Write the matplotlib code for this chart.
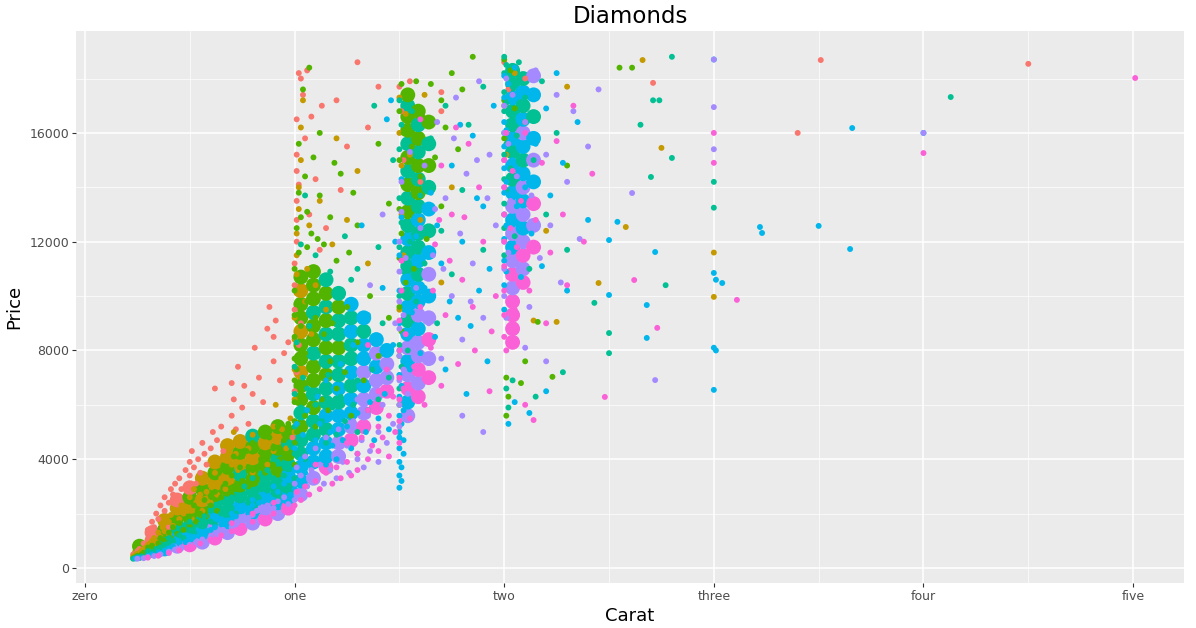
import numpy as np
import matplotlib
matplotlib.use("Agg")
import matplotlib.pyplot as plt
from matplotlib.ticker import MultipleLocator

# diamond colour grades and the ggplot hue palette
grades = ["D", "E", "F", "G", "H", "I", "J"]
grade_colors = ["#F8766D", "#C49A00", "#53B400", "#00C094", "#00B6EB", "#A58AFF", "#FB61D7"]

x_ticks = [0, 1, 2, 3, 4, 5]
x_labels = ["zero", "one", "two", "three", "four", "five"]
y_ticks = [0, 4000, 8000, 12000, 16000]

# (carat, price), one list per colour grade
pts_D = [(0.23, 500), (0.25, 620), (0.26, 700), (0.27, 560), (0.28, 900), (0.3, 1050), (0.3, 1400),
         (0.31, 1250), (0.32, 1700), (0.33, 1500), (0.34, 2000), (0.35, 1800), (0.36, 2300), (0.38, 2100),
         (0.38, 2600), (0.4, 2400), (0.41, 2900), (0.42, 2700), (0.43, 3100), (0.45, 3300), (0.46, 2900),
         (0.48, 3600), (0.5, 3400), (0.5, 3900), (0.51, 4300), (0.52, 3700), (0.53, 3100), (0.54, 4000),
         (0.55, 3500), (0.56, 4600), (0.57, 4200), (0.58, 3800), (0.6, 4400), (0.62, 6600), (0.61, 5000),
         (0.63, 4700), (0.65, 5200), (0.66, 4300), (0.7, 5600), (0.7, 6800), (0.71, 6200), (0.72, 5100),
         (0.73, 7400), (0.75, 5900), (0.76, 6700), (0.78, 5300), (0.8, 6400), (0.81, 8100), (0.83, 7000),
         (0.85, 6100), (0.87, 8800), (0.88, 9600), (0.9, 7600), (0.9, 8500), (0.91, 9100), (0.93, 6900),
         (0.95, 7900), (0.97, 8300), (0.3, 800), (0.35, 1200), (0.4, 1500),
         (1.0, 9500), (1.0, 10400), (1.0, 11200), (1.01, 12000), (1.01, 12800), (1.01, 13500), (1.01, 14600),
         (1.01, 15200), (1.01, 16500), (1.02, 14100), (1.02, 18200), (1.03, 18000), (1.04, 17400),
         (1.05, 15800), (1.06, 18300), (1.07, 13000), (1.08, 16600), (1.1, 14300), (1.12, 11700),
         (1.13, 17000), (1.15, 12500), (1.2, 17200), (1.22, 13900), (1.25, 15500), (1.3, 18600),
         (1.35, 16200), (1.4, 17700), (1.0, 6500), (1.01, 7200), (1.02, 8200), (1.03, 9000), (0.99, 4800),
         (1.5, 17700), (1.51, 16800), (1.52, 15000), (1.55, 17900), (1.6, 14200), (1.7, 16800), (1.7, 17500),
         (2.0, 18600), (2.02, 17600), (2.1, 18000), (2.71, 17840), (3.4, 16000), (3.51, 18680), (4.5, 18540)]

pts_E = [(0.23, 420), (0.24, 480), (0.25, 520), (0.26, 560), (0.27, 640), (0.28, 700), (0.29, 760),
         (0.3, 680), (0.3, 850), (0.31, 900), (0.32, 1000), (0.33, 1100), (0.34, 950), (0.35, 1300),
         (0.36, 1150), (0.37, 1500), (0.38, 1350), (0.4, 1700), (0.4, 1250), (0.41, 1950), (0.42, 1550),
         (0.43, 2100), (0.45, 1800), (0.46, 2300), (0.47, 2000), (0.5, 2600), (0.5, 2200), (0.51, 1800),
         (0.52, 2900), (0.53, 2400), (0.55, 2700), (0.56, 2100), (0.57, 3200), (0.58, 2800), (0.6, 3100),
         (0.6, 2400), (0.62, 3500), (0.63, 2700), (0.65, 3300), (0.67, 2900), (0.7, 3800), (0.7, 4500),
         (0.7, 3200), (0.71, 5000), (0.72, 4200), (0.73, 3600), (0.75, 4700), (0.76, 3900), (0.78, 4400),
         (0.8, 3500), (0.8, 4900), (0.82, 4100), (0.85, 4600), (0.87, 3800), (0.9, 4300), (0.9, 5200),
         (0.91, 6000), (0.92, 4700), (0.94, 5100), (0.96, 4400), (0.98, 5500),
         (1.0, 5000), (1.0, 6200), (1.0, 7300), (1.0, 8400), (1.0, 9200), (1.01, 10100), (1.01, 10800),
         (1.01, 11500), (1.01, 12300), (1.02, 13200), (1.02, 14000), (1.03, 15000), (1.03, 16200),
         (1.04, 17200), (1.05, 9800), (1.06, 11000), (1.07, 12600), (1.08, 8600), (1.1, 10400),
         (1.12, 13500), (1.15, 9500), (1.18, 11900), (1.2, 15800), (1.25, 12800), (1.3, 14600), (1.35, 11200),
         (1.5, 17300), (1.5, 16000), (1.51, 14800), (1.51, 13000), (1.52, 11500), (1.5, 9500), (1.53, 16700),
         (1.55, 15200), (1.6, 12800), (1.62, 17400), (1.7, 10500), (1.75, 14000),
         (2.0, 17000), (2.01, 15200), (2.05, 18200), (2.1, 16400), (2.14, 9100), (2.25, 9050), (2.2, 12400),
         (2.3, 17700), (2.45, 10480), (2.58, 12540), (2.66, 18680), (2.75, 15450), (3.0, 11600), (3.0, 9970)]

pts_F = [(0.23, 360), (0.24, 400), (0.25, 450), (0.26, 380), (0.27, 500), (0.28, 560), (0.3, 600),
         (0.3, 750), (0.31, 520), (0.32, 820), (0.33, 680), (0.35, 900), (0.36, 1100), (0.37, 780),
         (0.38, 1000), (0.4, 1300), (0.4, 950), (0.41, 1100), (0.42, 1500), (0.44, 1250), (0.45, 1650),
         (0.47, 1400), (0.5, 1900), (0.5, 1550), (0.52, 2300), (0.53, 1700), (0.55, 2000), (0.57, 2500),
         (0.58, 1900), (0.6, 2300), (0.62, 2800), (0.63, 2100), (0.65, 2600), (0.67, 3100), (0.7, 2700),
         (0.7, 3400), (0.71, 4100), (0.72, 2900), (0.74, 3700), (0.75, 3200), (0.77, 4300), (0.78, 3000),
         (0.8, 3600), (0.8, 4600), (0.82, 3300), (0.84, 4000), (0.86, 3500), (0.88, 4800), (0.9, 3800),
         (0.9, 4400), (0.92, 5200), (0.93, 4000), (0.95, 4700), (0.97, 5300), (0.99, 4200),
         (1.0, 3800), (1.0, 4600), (1.0, 5400), (1.0, 6100), (1.0, 6900), (1.0, 7700), (1.0, 8500),
         (1.0, 9300), (1.0, 10200), (1.0, 11000), (1.01, 5000), (1.01, 7300), (1.01, 9700), (1.01, 12500),
         (1.02, 13800), (1.02, 15600), (1.03, 6400), (1.03, 8900), (1.04, 10600), (1.04, 17600),
         (1.05, 5600), (1.05, 7900), (1.06, 9800), (1.06, 11800), (1.07, 18400), (1.08, 6800), (1.08, 8400),
         (1.09, 10900), (1.1, 5200), (1.1, 7400), (1.1, 9200), (1.11, 12100), (1.12, 16000), (1.13, 6200),
         (1.14, 8600), (1.15, 10200), (1.16, 5800), (1.17, 7600), (1.18, 9000), (1.2, 6600), (1.2, 11300),
         (1.21, 8100), (1.22, 14500), (1.24, 7200), (1.25, 9600), (1.27, 5600), (1.3, 8300), (1.3, 12600),
         (1.33, 6900), (1.36, 10000), (1.4, 7800), (1.45, 13400), (1.4, 15600), (1.45, 9200),
         (1.02, 11600), (1.03, 12900), (1.05, 14400), (1.06, 13100), (1.08, 12300), (1.09, 15100),
         (1.12, 13700), (1.14, 11900), (1.17, 12900), (1.19, 14900), (1.26, 11600), (1.28, 13800),
         (1.5, 6000), (1.5, 7800), (1.5, 9600), (1.5, 11400), (1.5, 13200), (1.5, 15000), (1.5, 16800),
         (1.51, 17800), (1.51, 8700), (1.51, 12300), (1.52, 14100), (1.52, 16000), (1.53, 10500),
         (1.54, 17300), (1.55, 13000), (1.56, 15500), (1.57, 11000), (1.58, 17900), (1.6, 14400),
         (1.61, 16600), (1.63, 12100), (1.65, 17800), (1.67, 15100), (1.7, 17200), (1.7, 13300),
         (1.72, 16200), (1.75, 18200), (1.8, 17600), (1.85, 18800), (1.78, 15400),
         (2.0, 18700), (2.0, 17200), (2.0, 15800), (2.01, 7000), (2.01, 5600), (2.02, 6300), (2.03, 18300),
         (2.05, 16900), (2.08, 6800), (2.1, 7600), (2.16, 9050), (2.23, 7030), (2.3, 14800),
         (2.55, 18400), (2.61, 18400)]

pts_G = [(0.23, 340), (0.25, 400), (0.27, 430), (0.3, 500), (0.3, 620), (0.32, 580), (0.34, 700),
         (0.36, 760), (0.38, 860), (0.4, 920), (0.4, 1100), (0.42, 1000), (0.45, 1200), (0.47, 1100),
         (0.5, 1400), (0.5, 1700), (0.52, 1300), (0.55, 1600), (0.57, 1900), (0.6, 1700), (0.6, 2100),
         (0.62, 1600), (0.65, 2000), (0.67, 2400), (0.7, 2200), (0.7, 2600), (0.72, 2000), (0.74, 2500),
         (0.76, 3000), (0.78, 2400), (0.8, 2800), (0.8, 3300), (0.83, 2600), (0.85, 3100), (0.87, 3600),
         (0.9, 2900), (0.9, 3300), (0.92, 3900), (0.95, 3400), (0.97, 3000), (0.98, 4500),
         (1.0, 3300), (1.0, 4200), (1.0, 5200), (1.0, 6400), (1.0, 7400), (1.01, 8300), (1.02, 4800),
         (1.03, 5900), (1.04, 7000), (1.05, 4000), (1.06, 6600), (1.07, 8900), (1.08, 5000), (1.1, 4400),
         (1.1, 6000), (1.11, 7800), (1.12, 9500), (1.13, 5400), (1.15, 4600), (1.16, 7100), (1.18, 5900),
         (1.2, 4900), (1.2, 8500), (1.22, 6300), (1.24, 5400), (1.25, 7600), (1.27, 10600), (1.28, 6000),
         (1.3, 5000), (1.3, 6900), (1.32, 8700), (1.35, 5800), (1.37, 7300), (1.4, 6200), (1.4, 11800),
         (1.42, 9000), (1.45, 7000), (1.47, 15000), (1.38, 17000),
         (1.03, 11900), (1.05, 13700), (1.1, 11500), (1.17, 10900), (1.24, 12200), (1.3, 11000),
         (1.5, 5000), (1.5, 6600), (1.5, 8200), (1.5, 10000), (1.5, 11800), (1.5, 13600), (1.5, 15400),
         (1.5, 17200), (1.51, 7400), (1.51, 9100), (1.51, 12700), (1.51, 16300), (1.52, 10900),
         (1.53, 14500), (1.54, 8000), (1.55, 12000), (1.56, 16800), (1.58, 9800), (1.6, 13700),
         (1.62, 11200), (1.65, 15800), (1.68, 9000), (1.7, 12400), (1.72, 17000), (1.75, 10800),
         (1.8, 13900), (1.83, 16300), (1.9, 11700), (1.9, 17700),
         (2.0, 18800), (2.0, 18200), (2.0, 17500), (2.0, 16800), (2.0, 16000), (2.0, 15200), (2.0, 14300),
         (2.0, 13400), (2.0, 12500), (2.0, 11500), (2.01, 18500), (2.01, 17100), (2.01, 15600),
         (2.01, 13900), (2.01, 6600), (2.02, 18000), (2.02, 16400), (2.02, 5900), (2.03, 14700),
         (2.04, 17700), (2.04, 6900), (2.05, 12200), (2.06, 15900), (2.07, 18600), (2.08, 13500),
         (2.1, 17300), (2.12, 11000), (2.14, 15000), (2.15, 6300), (2.18, 17900), (2.2, 13000),
         (2.25, 16000), (2.28, 7200), (2.3, 11700),
         (2.43, 9750), (2.5, 8640), (2.5, 7900), (2.65, 16300), (2.7, 14380), (2.74, 17200), (2.71, 17200),
         (2.77, 10400), (2.8, 18800), (2.8, 15080), (3.0, 14200), (3.0, 13250), (4.13, 17320)]

pts_H = [(0.24, 350), (0.26, 370), (0.3, 450), (0.32, 500), (0.35, 580), (0.38, 650), (0.4, 720),
         (0.42, 800), (0.45, 900), (0.48, 950), (0.5, 1050), (0.52, 1150), (0.55, 1200), (0.58, 1350),
         (0.6, 1400), (0.62, 1500), (0.65, 1600), (0.68, 1750), (0.7, 1800), (0.7, 2000), (0.72, 1900),
         (0.75, 2100), (0.78, 2200), (0.8, 2300), (0.8, 2500), (0.83, 2400), (0.85, 2700), (0.88, 2600),
         (0.9, 2500), (0.9, 3000), (0.92, 2800), (0.95, 3100), (0.98, 2700),
         (1.0, 2900), (1.0, 3600), (1.0, 4400), (1.01, 5300), (1.02, 3200), (1.03, 4000), (1.04, 4900),
         (1.05, 3500), (1.06, 5800), (1.07, 4300), (1.08, 3700), (1.1, 4700), (1.1, 3900), (1.11, 6300),
         (1.12, 5300), (1.14, 4200), (1.15, 3800), (1.15, 6900), (1.17, 5000), (1.18, 4500), (1.2, 4000),
         (1.2, 5700), (1.22, 7500), (1.23, 4700), (1.25, 5200), (1.25, 6300), (1.27, 4400), (1.28, 8200),
         (1.3, 5700), (1.3, 4200), (1.32, 6700), (1.34, 5000), (1.35, 9300), (1.36, 6100), (1.38, 4700),
         (1.4, 5500), (1.4, 7300), (1.42, 10300), (1.43, 6400), (1.45, 5100), (1.47, 8200), (1.32, 12600),
         (1.46, 17200), (1.44, 16500), (1.48, 12000),
         (1.5, 2950), (1.5, 3400), (1.5, 3900), (1.5, 4400), (1.5, 5000), (1.5, 5600), (1.5, 6300),
         (1.5, 7100), (1.5, 8000), (1.5, 9000), (1.5, 10200), (1.5, 11500), (1.51, 12900), (1.51, 14300),
         (1.51, 6700), (1.52, 8600), (1.52, 4700), (1.53, 10700), (1.55, 7300), (1.56, 9400), (1.58, 12200),
         (1.6, 7900), (1.62, 10300), (1.65, 13800), (1.67, 8500), (1.7, 11200), (1.72, 7300), (1.75, 14800),
         (1.78, 9200), (1.8, 12000), (1.82, 6400), (1.85, 15900), (1.88, 10200), (1.9, 13300), (1.92, 7600),
         (1.95, 17000), (1.51, 3200), (1.51, 3700), (1.52, 4200), (1.51, 5300), (1.5, 4800), (1.52, 5800),
         (1.68, 12600), (1.74, 9800), (1.79, 16300), (1.84, 8900), (1.87, 13600), (1.93, 11000),
         (2.0, 9500), (2.0, 10400), (2.0, 11300), (2.0, 12100), (2.0, 13000), (2.0, 13800), (2.0, 14700),
         (2.0, 15500), (2.0, 16400), (2.0, 17300), (2.0, 18100), (2.01, 10900), (2.01, 12600), (2.01, 14200),
         (2.01, 16100), (2.02, 17800), (2.02, 5300), (2.03, 11800), (2.04, 15000), (2.05, 18400),
         (2.06, 13300), (2.07, 16600), (2.08, 10700), (2.1, 14000), (2.11, 17500), (2.13, 12300),
         (2.15, 15600), (2.18, 11100), (2.2, 16900), (2.22, 13700), (2.25, 18200), (2.28, 14900),
         (2.3, 10200), (2.35, 16400), (2.4, 12800), (2.05, 6100), (2.12, 5700), (2.2, 6500),
         (2.5, 10040), (2.54, 12730), (2.5, 12060), (2.72, 11620), (2.68, 9670), (2.68, 8460), (3.0, 18700),
         (3.0, 10850), (3.01, 10600), (3.0, 8100), (3.01, 8000), (3.0, 6550), (3.04, 10480), (3.22, 12540),
         (3.23, 12320), (3.5, 12580), (3.65, 11730), (3.66, 16180), (4.0, 16000)]

pts_I = [(0.25, 340), (0.28, 360), (0.3, 400), (0.33, 440), (0.36, 500), (0.4, 600), (0.43, 680),
         (0.46, 760), (0.5, 850), (0.53, 950), (0.56, 1050), (0.6, 1150), (0.63, 1250), (0.66, 1400),
         (0.7, 1500), (0.72, 1600), (0.75, 1750), (0.78, 1850), (0.8, 1950), (0.82, 2100), (0.85, 2050),
         (0.87, 2300), (0.9, 2200), (0.92, 2450), (0.95, 2600), (0.97, 2350),
         (1.0, 2500), (1.0, 3100), (1.01, 3700), (1.02, 2700), (1.03, 3400), (1.05, 4100), (1.06, 3000),
         (1.08, 3600), (1.1, 3300), (1.1, 4400), (1.12, 3800), (1.14, 3100), (1.15, 4800), (1.17, 3600),
         (1.19, 4200), (1.2, 3300), (1.21, 5100), (1.23, 3900), (1.25, 4500), (1.26, 3500), (1.28, 5400),
         (1.3, 4000), (1.3, 6200), (1.32, 4700), (1.33, 3700), (1.35, 5600), (1.36, 4300), (1.38, 6800),
         (1.4, 5000), (1.4, 3900), (1.42, 6000), (1.44, 4600), (1.45, 7400), (1.47, 5300), (1.48, 9000),
         (1.36, 10400), (1.42, 13000),
         (1.5, 5200), (1.5, 6000), (1.5, 6900), (1.5, 7800), (1.5, 8800), (1.5, 9800), (1.5, 10900),
         (1.5, 12000), (1.51, 13100), (1.51, 14200), (1.52, 7300), (1.52, 9300), (1.53, 11400), (1.54, 6400),
         (1.55, 15300), (1.56, 8300), (1.58, 10300), (1.6, 12500), (1.6, 6800), (1.62, 14800), (1.64, 9000),
         (1.66, 11500), (1.68, 16400), (1.7, 7700), (1.72, 13600), (1.75, 10000), (1.77, 17300), (1.8, 8400),
         (1.82, 14500), (1.85, 11200), (1.88, 17900), (1.9, 9200), (1.93, 15200), (1.96, 12600), (1.8, 5600),
         (1.9, 5000), (1.67, 13200), (1.71, 11000), (1.76, 15800), (1.79, 12300), (1.84, 9800), (1.87, 15000),
         (1.92, 13600),
         (2.0, 10000), (2.0, 11000), (2.0, 12000), (2.0, 13000), (2.0, 14000), (2.0, 15000), (2.0, 16000),
         (2.0, 17000), (2.01, 9200), (2.01, 18000), (2.02, 11600), (2.02, 15600), (2.03, 13500),
         (2.04, 17400), (2.05, 10300), (2.06, 14400), (2.08, 12000), (2.1, 16400), (2.12, 9600),
         (2.13, 13700), (2.15, 18300), (2.17, 11400), (2.2, 15200), (2.22, 12600), (2.25, 17400),
         (2.27, 10500), (2.3, 14200), (2.33, 16800), (2.36, 12100), (2.4, 15500), (2.45, 17600), (2.1, 8100),
         (2.2, 7600),
         (2.61, 13790), (2.72, 6910), (3.0, 18700), (3.0, 16950), (3.0, 15400), (4.0, 16000)]

pts_J = [(0.3, 380), (0.35, 450), (0.4, 550), (0.45, 650), (0.5, 780), (0.55, 900), (0.6, 1050),
         (0.65, 1200), (0.7, 1350), (0.75, 1550), (0.8, 1700), (0.85, 1850), (0.9, 2000), (0.95, 2150),
         (0.7, 1650), (0.8, 2000), (0.9, 2400),
         (1.0, 2300), (1.01, 2800), (1.03, 2500), (1.05, 3000), (1.07, 2700), (1.1, 3200), (1.12, 2900),
         (1.15, 3500), (1.18, 3100), (1.2, 3700), (1.22, 3300), (1.25, 3900), (1.27, 3400), (1.3, 4200),
         (1.3, 3600), (1.32, 4800), (1.35, 4000), (1.37, 4500), (1.4, 4300), (1.4, 5200), (1.42, 4800),
         (1.45, 5600), (1.45, 4100), (1.47, 6300), (1.48, 5000), (1.35, 5800), (1.4, 6500), (1.44, 7300),
         (1.35, 8200), (1.25, 4600), (1.1, 3800),
         (1.5, 4600), (1.5, 5400), (1.5, 6200), (1.5, 7000), (1.5, 8000), (1.5, 9100), (1.51, 10200),
         (1.51, 11300), (1.52, 6600), (1.53, 8600), (1.55, 5500), (1.57, 7400), (1.6, 9600), (1.62, 6000),
         (1.65, 8100), (1.67, 11900), (1.7, 6700), (1.72, 9300), (1.75, 13000), (1.78, 7500), (1.8, 10600),
         (1.83, 15600), (1.86, 8000), (1.9, 12000), (1.93, 6500), (1.96, 10000), (1.7, 14800), (1.6, 16500),
         (1.66, 10200), (1.69, 12800), (1.74, 11300), (1.77, 16200), (1.81, 12900), (1.85, 9600),
         (1.88, 14000), (1.94, 8700),
         (2.0, 8500), (2.0, 9300), (2.0, 10200), (2.0, 11100), (2.0, 12000), (2.0, 13000), (2.0, 14000),
         (2.0, 15000), (2.01, 16000), (2.01, 8000), (2.02, 10700), (2.03, 12500), (2.04, 14600),
         (2.05, 9500), (2.06, 11800), (2.08, 13500), (2.1, 16000), (2.12, 10200), (2.14, 5440),
         (2.15, 12800), (2.18, 14900), (2.2, 9000), (2.22, 11600), (2.25, 15700), (2.28, 13000),
         (2.3, 10400), (2.33, 17000), (2.38, 12000), (2.42, 14500), (2.1, 6000),
         (2.48, 6290), (2.62, 10590), (2.73, 8830), (3.0, 16000), (3.0, 14900), (3.11, 9860), (4.0, 15260),
         (5.01, 18020)]

# solid, overplotted parts of the cloud: (carat, price, grade)
core_points = [
    (0.26, 550, "E"), (0.26, 800, "F"),
    (0.32, 650, "G"), (0.32, 1000, "E"), (0.32, 1300, "D"),
    (0.38, 700, "H"), (0.38, 1050, "G"), (0.38, 1400, "F"), (0.38, 1750, "E"),
    (0.44, 800, "I"), (0.44, 1150, "H"), (0.44, 1500, "G"), (0.44, 1850, "F"), (0.44, 2200, "E"), (0.44, 2500, "D"),
    (0.5, 850, "J"), (0.5, 1200, "H"), (0.5, 1550, "G"), (0.5, 1900, "F"), (0.5, 2250, "E"), (0.5, 2600, "F"),
    (0.5, 2950, "D"),
    (0.56, 950, "I"), (0.56, 1300, "H"), (0.56, 1700, "G"), (0.56, 2100, "F"), (0.56, 2500, "E"), (0.56, 2900, "F"),
    (0.56, 3300, "E"),
    (0.62, 1100, "J"), (0.62, 1500, "I"), (0.62, 1900, "H"), (0.62, 2300, "G"), (0.62, 2700, "F"), (0.62, 3100, "E"),
    (0.62, 3500, "F"), (0.62, 3900, "E"),
    (0.68, 1300, "I"), (0.68, 1700, "H"), (0.68, 2100, "G"), (0.68, 2500, "G"), (0.68, 2900, "F"), (0.68, 3300, "E"),
    (0.68, 3700, "F"), (0.68, 4100, "E"), (0.68, 4500, "E"),
    (0.74, 1450, "J"), (0.74, 1850, "I"), (0.74, 2250, "H"), (0.74, 2650, "G"), (0.74, 3050, "F"), (0.74, 3450, "G"),
    (0.74, 3850, "E"), (0.74, 4250, "F"), (0.74, 4650, "E"),
    (0.8, 1650, "I"), (0.8, 2050, "H"), (0.8, 2450, "G"), (0.8, 2850, "G"), (0.8, 3250, "F"), (0.8, 3650, "F"),
    (0.8, 4050, "E"), (0.8, 4450, "F"), (0.8, 4850, "G"),
    (0.86, 1800, "J"), (0.86, 2200, "I"), (0.86, 2600, "H"), (0.86, 3000, "G"), (0.86, 3400, "G"), (0.86, 3800, "F"),
    (0.86, 4200, "F"), (0.86, 4600, "E"), (0.86, 5000, "F"),
    (0.92, 2000, "I"), (0.92, 2400, "H"), (0.92, 2800, "G"), (0.92, 3200, "G"), (0.92, 3600, "F"), (0.92, 4000, "G"),
    (0.92, 4400, "F"), (0.92, 4800, "E"), (0.92, 5200, "F"),
    (0.97, 2200, "J"), (0.97, 2600, "H"), (0.97, 3000, "G"), (0.97, 3400, "H"), (0.97, 3800, "G"), (0.97, 4200, "F"),
    (0.97, 4600, "G"), (0.97, 5000, "F"),
    (1.03, 2700, "I"), (1.03, 3200, "H"), (1.03, 3700, "H"), (1.03, 4200, "G"), (1.03, 4700, "G"), (1.03, 5200, "F"),
    (1.03, 5700, "G"), (1.03, 6200, "F"), (1.03, 6700, "F"), (1.03, 7200, "E"), (1.03, 7700, "F"), (1.03, 8200, "F"),
    (1.03, 8700, "E"), (1.03, 9200, "F"), (1.03, 9700, "F"), (1.03, 10200, "E"), (1.03, 10700, "F"),
    (1.09, 3300, "I"), (1.09, 3900, "H"), (1.09, 4400, "H"), (1.09, 4900, "G"), (1.09, 5400, "G"), (1.09, 5900, "F"),
    (1.09, 6400, "G"), (1.09, 6900, "F"), (1.09, 7400, "F"), (1.09, 7900, "G"), (1.09, 8400, "F"), (1.09, 8900, "F"),
    (1.09, 9400, "G"), (1.09, 9900, "F"), (1.09, 10400, "F"), (1.09, 10900, "F"),
    (1.15, 3700, "J"), (1.15, 4100, "H"), (1.15, 4600, "H"), (1.15, 5100, "G"), (1.15, 5600, "H"), (1.15, 6100, "G"),
    (1.15, 6600, "G"), (1.15, 7100, "F"), (1.15, 7600, "G"), (1.15, 8100, "F"), (1.15, 8600, "G"), (1.15, 9100, "F"),
    (1.15, 9600, "G"), (1.15, 10100, "F"), (1.15, 10600, "G"),
    (1.21, 4100, "I"), (1.21, 4600, "I"), (1.21, 5100, "H"), (1.21, 5600, "H"), (1.21, 6100, "G"), (1.21, 6600, "H"),
    (1.21, 7100, "G"), (1.21, 7600, "G"), (1.21, 8100, "F"), (1.21, 8600, "G"), (1.21, 9100, "G"), (1.21, 9600, "F"),
    (1.21, 10100, "G"),
    (1.27, 4700, "J"), (1.27, 5200, "I"), (1.27, 5700, "H"), (1.27, 6200, "H"), (1.27, 6700, "G"), (1.27, 7200, "H"),
    (1.27, 7700, "G"), (1.27, 8200, "G"), (1.27, 8700, "H"), (1.27, 9200, "G"), (1.27, 9700, "H"),
    (1.33, 5200, "J"), (1.33, 5700, "I"), (1.33, 6200, "I"), (1.33, 6700, "H"), (1.33, 7200, "I"), (1.33, 7700, "H"),
    (1.33, 8200, "H"), (1.33, 8700, "G"), (1.33, 9200, "H"),
    (1.39, 5900, "J"), (1.39, 6400, "I"), (1.39, 6900, "I"), (1.39, 7400, "H"), (1.39, 7900, "I"), (1.39, 8400, "H"),
    (1.44, 6500, "J"), (1.44, 7000, "I"), (1.44, 7500, "I"), (1.44, 8000, "H"),
    (1.54, 5600, "I"), (1.54, 6100, "H"), (1.54, 6600, "J"), (1.54, 7100, "I"), (1.54, 7600, "H"), (1.54, 8100, "I"),
    (1.54, 8600, "H"), (1.54, 9100, "G"), (1.54, 9600, "H"), (1.54, 10100, "G"), (1.54, 10600, "H"),
    (1.54, 11100, "G"), (1.54, 11600, "G"), (1.54, 12100, "H"), (1.54, 12600, "G"), (1.54, 13100, "F"),
    (1.54, 13600, "G"), (1.54, 14100, "F"), (1.54, 14600, "G"), (1.54, 15100, "F"), (1.54, 15600, "G"),
    (1.54, 16100, "F"), (1.54, 16600, "F"), (1.54, 17000, "G"), (1.54, 17400, "F"),
    (1.59, 6300, "J"), (1.59, 6800, "I"), (1.59, 7300, "J"), (1.59, 7800, "I"), (1.59, 8300, "I"), (1.59, 8800, "H"),
    (1.59, 9300, "I"), (1.59, 9800, "H"), (1.59, 10300, "H"), (1.59, 10800, "G"), (1.59, 11300, "H"),
    (1.59, 11800, "G"), (1.59, 12300, "G"), (1.59, 12800, "H"), (1.59, 13300, "G"), (1.59, 13800, "F"),
    (1.59, 14300, "G"), (1.59, 14800, "F"), (1.59, 15300, "G"), (1.59, 15800, "F"), (1.59, 16300, "G"),
    (1.59, 16800, "F"),
    (1.64, 7000, "J"), (1.64, 7700, "I"), (1.64, 8400, "J"), (1.64, 9200, "I"), (1.64, 10000, "H"), (1.64, 10800, "I"),
    (1.64, 11600, "H"), (1.64, 12400, "G"), (1.64, 13200, "H"), (1.64, 14000, "G"), (1.64, 14800, "F"),
    (1.64, 15600, "G"), (1.64, 16400, "F"),
    (2.04, 8300, "J"), (2.04, 8800, "J"), (2.04, 9300, "J"), (2.04, 9800, "J"), (2.04, 10300, "I"), (2.04, 10800, "J"),
    (2.04, 11300, "I"), (2.04, 11800, "H"), (2.04, 12300, "I"), (2.04, 12800, "H"), (2.04, 13300, "I"),
    (2.04, 13800, "H"), (2.04, 14300, "G"), (2.04, 14800, "H"), (2.04, 15300, "G"), (2.04, 15800, "H"),
    (2.04, 16300, "G"), (2.04, 16800, "G"), (2.04, 17300, "H"), (2.04, 17800, "G"), (2.04, 18300, "G"),
    (2.09, 10500, "J"), (2.09, 11000, "I"), (2.09, 11500, "J"), (2.09, 12000, "I"), (2.09, 12500, "H"),
    (2.09, 13000, "I"), (2.09, 13500, "H"), (2.09, 14000, "I"), (2.09, 14500, "H"), (2.09, 15000, "G"),
    (2.09, 15500, "H"), (2.09, 16000, "I"), (2.09, 16500, "H"), (2.09, 17000, "G"), (2.09, 17500, "H"),
    (2.09, 18000, "G"),
    (2.14, 11800, "J"), (2.14, 12600, "I"), (2.14, 13400, "J"), (2.14, 14200, "H"), (2.14, 15000, "I"),
    (2.14, 15800, "H"), (2.14, 16600, "G"), (2.14, 17400, "H"), (2.14, 18100, "I"),
]

all_points = [pts_D, pts_E, pts_F, pts_G, pts_H, pts_I, pts_J]
color_of = dict(zip(grades, grade_colors))

fig = plt.figure(figsize=(11.96, 6.28), dpi=100)
ax = fig.add_axes([0.0635, 0.0717, 0.9265, 0.879])
ax.set_facecolor("#EBEBEB")

# the overplotted core drawn with wide markers so neighbours merge into a solid patch
core_x = [p[0] for p in core_points]
core_y = [p[1] for p in core_points]
core_c = [color_of[p[2]] for p in core_points]
ax.scatter(core_x, core_y, s=115, c=core_c, edgecolors="none", zorder=2)

for pts, col in zip(all_points, grade_colors):
    arr = np.array(pts)
    ax.scatter(arr[:, 0], arr[:, 1], s=18, color=col, edgecolors="none", zorder=3)

ax.set_xlim(-0.043, 5.243)
ax.set_ylim(-552, 19750)
ax.set_xticks(x_ticks)
ax.set_xticklabels(x_labels)
ax.set_yticks(y_ticks)
ax.xaxis.set_minor_locator(MultipleLocator(0.5))
ax.yaxis.set_minor_locator(MultipleLocator(2000))
ax.grid(which="major", color="white", linewidth=1.1, zorder=0)
ax.grid(which="minor", color="white", linewidth=0.5, zorder=0)
ax.set_axisbelow(True)
for sp in ax.spines.values():
    sp.set_visible(False)
ax.tick_params(which="major", length=3, color="#333333", labelcolor="#4D4D4D", labelsize=9, pad=2)
ax.tick_params(which="minor", length=0)

ax.set_xlabel("Carat", fontsize=13, color="black", labelpad=3)
ax.set_ylabel("Price", fontsize=13, color="black", labelpad=4)
ax.set_title("Diamonds", fontsize=16.5, color="black", pad=6)

fig.savefig("out.png", dpi=100)
